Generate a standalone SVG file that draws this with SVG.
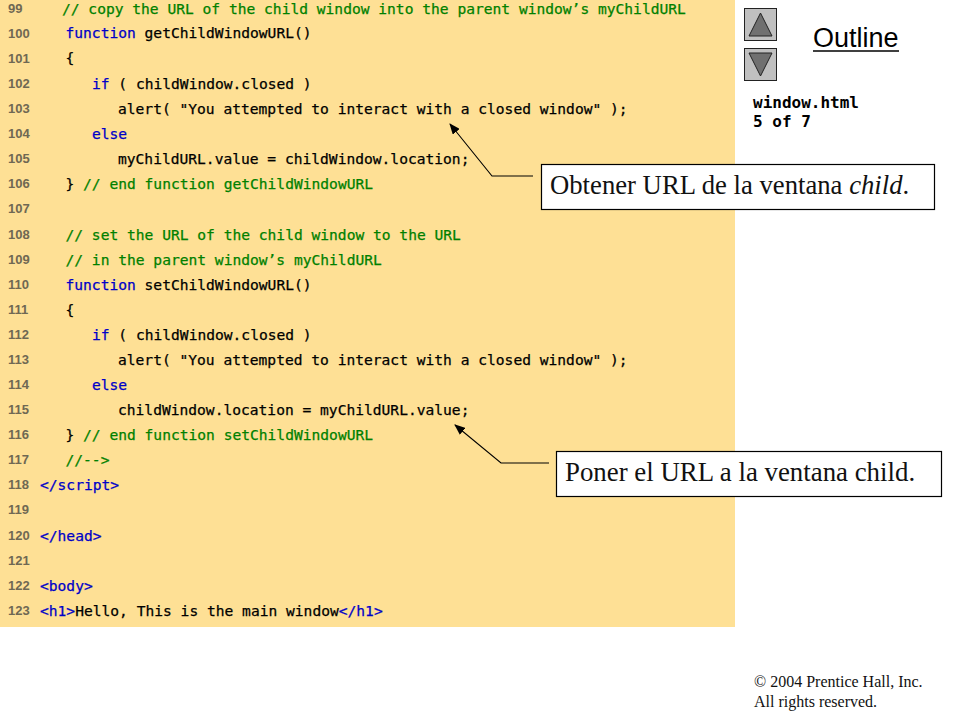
<svg xmlns="http://www.w3.org/2000/svg" width="960" height="720" viewBox="0 0 960 720">
<style>
.n{font:bold 13px "Liberation Sans",Arial,sans-serif;fill:#6f6853}
.c{font:14.6px "DejaVu Sans Mono",monospace;fill:#000;stroke:#000;stroke-width:.25;white-space:pre}
.g{fill:#008000;stroke:#008000}.b{fill:#0000c8;stroke:#0000c8}
.s{font-family:"Liberation Serif","Times New Roman",serif;fill:#111}
.box{fill:#fff;stroke:#000;stroke-width:1.2}
.l{fill:none;stroke:#000;stroke-width:1.1}
</style>
<defs><marker id="a" markerWidth="11" markerHeight="9" refX="10" refY="4.5" orient="auto" markerUnits="userSpaceOnUse"><path d="M0 0L11 4.5L0 9Z" fill="#000"/></marker></defs>
<rect width="960" height="720" fill="#fff"/>
<rect id="code-bg" width="735" height="627" fill="#fee095"/>
<g id="line-numbers">
<text class="n" x="8" y="13">99</text><text class="n" x="8" y="38">100</text><text class="n" x="8" y="63">101</text><text class="n" x="8" y="88">102</text><text class="n" x="8" y="113">103</text><text class="n" x="8" y="138">104</text><text class="n" x="8" y="163">105</text><text class="n" x="8" y="188">106</text><text class="n" x="8" y="213">107</text><text class="n" x="8" y="239">108</text><text class="n" x="8" y="264">109</text><text class="n" x="8" y="289">110</text><text class="n" x="8" y="314">111</text><text class="n" x="8" y="339">112</text><text class="n" x="8" y="364">113</text><text class="n" x="8" y="389">114</text><text class="n" x="8" y="414">115</text><text class="n" x="8" y="439">116</text><text class="n" x="8" y="464">117</text><text class="n" x="8" y="489">118</text><text class="n" x="8" y="514">119</text><text class="n" x="8" y="540">120</text><text class="n" x="8" y="565">121</text><text class="n" x="8" y="590">122</text><text class="n" x="8" y="615">123</text>
</g>
<g id="code">
<text class="c g" x="62" y="14">// copy the URL of the child window into the parent window’s myChildURL</text>
<text class="c" x="65.500" y="38"><tspan class="b">function</tspan> getChildWindowURL()</text>
<text class="c" x="65.500" y="63">{</text>
<text class="c" x="92" y="89"><tspan class="b">if</tspan> ( childWindow.closed )</text>
<text class="c" x="118" y="114">alert( "You attempted to interact with a closed window" );</text>
<text class="c b" x="92" y="139">else</text>
<text class="c" x="118" y="164">myChildURL.value = childWindow.location;</text>
<text class="c" x="65.500" y="189">} <tspan class="g">// end function getChildWindowURL</tspan></text>
<text class="c g" x="65.500" y="240">// set the URL of the child window to the URL</text>
<text class="c g" x="65.500" y="265">// in the parent window’s myChildURL</text>
<text class="c" x="65.500" y="290"><tspan class="b">function</tspan> setChildWindowURL()</text>
<text class="c" x="65.500" y="315">{</text>
<text class="c" x="92" y="340"><tspan class="b">if</tspan> ( childWindow.closed )</text>
<text class="c" x="118" y="365">alert( "You attempted to interact with a closed window" );</text>
<text class="c b" x="92" y="390">else</text>
<text class="c" x="118" y="415">childWindow.location = myChildURL.value;</text>
<text class="c" x="65.500" y="440">} <tspan class="g">// end function setChildWindowURL</tspan></text>
<text class="c g" x="65.500" y="465">//--&gt;</text>
<text class="c b" x="40" y="490">&lt;/script&gt;</text>
<text class="c b" x="40" y="541">&lt;/head&gt;</text>
<text class="c b" x="40" y="591">&lt;body&gt;</text>
<text class="c" x="40" y="616"><tspan class="b">&lt;h1&gt;</tspan>Hello, This is the main window<tspan class="b">&lt;/h1&gt;</tspan></text>
</g>
<g id="connectors">
<path class="l" d="M533 176H492L450 124" marker-end="url(#a)"/>
<path class="l" d="M549 463H501L455 425" marker-end="url(#a)"/>
</g>
<g id="note-get"><rect class="box" x="541.500" y="164.500" width="393" height="45"/><text class="s" x="550" y="194" font-size="26.700">Obtener URL de la ventana <tspan font-style="italic">child</tspan>.</text></g>
<g id="note-set"><rect class="box" x="556.500" y="451.500" width="385" height="45"/><text class="s" x="565" y="481" font-size="26.850">Poner el URL a la ventana child.</text></g>
<g id="nav-up"><rect x="744.500" y="8.500" width="32" height="32" fill="#c0c0c0" stroke="#222"/><path d="M749 36L760.500 13L772 36Z" fill="#707070" stroke="#222"/></g>
<g id="nav-down"><rect x="744.500" y="48.500" width="32" height="32" fill="#c0c0c0" stroke="#222"/><path d="M749 53L760.500 76L772 53Z" fill="#707070" stroke="#222"/></g>
<g id="outline"><text x="813" y="47" font-family="Liberation Sans,Arial,sans-serif" font-size="27" fill="#000">Outline</text><path d="M813 51H899" stroke="#000" stroke-width="1.400" fill="none"/></g>
<g id="file"><text x="753" y="108" font-family="DejaVu Sans Mono,monospace" font-size="16" font-weight="bold" fill="#000">window.html</text><text x="753" y="127" font-family="DejaVu Sans Mono,monospace" font-size="16" font-weight="bold" fill="#000">5 of 7</text></g>
<g id="copyright"><text class="s" x="754" y="687" font-size="16">© 2004 Prentice Hall, Inc.</text><text class="s" x="754" y="707" font-size="16">All rights reserved.</text></g>
</svg>
